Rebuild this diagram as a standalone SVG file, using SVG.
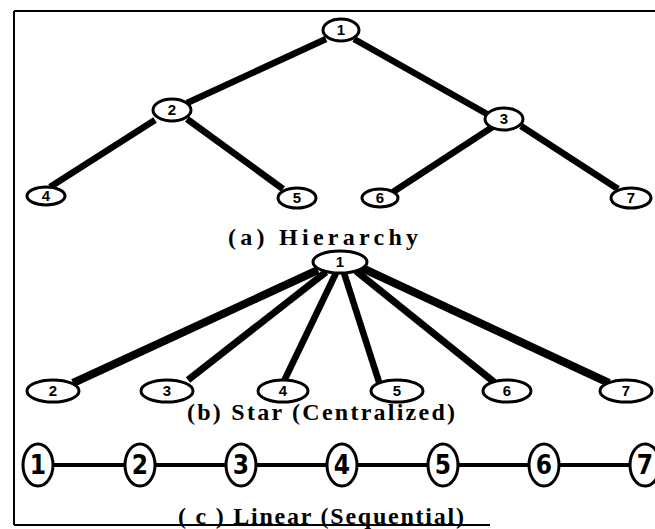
<svg xmlns="http://www.w3.org/2000/svg" width="655" height="529" viewBox="0 0 655 529">
<style>
.n{fill:#fff;stroke:#000;stroke-width:3}
.t{font-family:"Liberation Sans",Arial,sans-serif;font-weight:bold;font-size:15px;text-anchor:middle;fill:#000}
.tl{font-family:"Liberation Sans Narrow","DejaVu Sans Condensed","Liberation Sans",sans-serif;font-weight:bold;font-size:26px;text-anchor:middle;fill:#000}
.cap{font-family:"Liberation Serif","Times New Roman",serif;font-weight:bold;font-size:24px;fill:#000}
.e{stroke:#000;stroke-linecap:butt;fill:none}
</style>
<rect width="655" height="529" fill="#fff"/>
<g id="frame" fill="none" stroke="#000" stroke-width="2">
<path d="M14,11 H655 M14,11 V525 M14,525 H490"/>
</g>
<g id="connectors">
<g class="e" stroke-width="6.5">
<line x1="326" y1="39" x2="187" y2="103"/>
<line x1="354" y1="39" x2="487" y2="114"/>
<line x1="155" y1="120" x2="50" y2="187"/>
<line x1="187" y1="119" x2="283" y2="189"/>
<line x1="494" y1="126" x2="393" y2="192"/>
<line x1="521" y1="126" x2="618" y2="189"/>
</g>
<g class="e">
<line x1="318" y1="270" x2="73" y2="383" stroke-width="8"/>
<line x1="326" y1="272" x2="188" y2="380" stroke-width="7"/>
<line x1="336" y1="273" x2="284" y2="381" stroke-width="6.5"/>
<line x1="344" y1="273" x2="379" y2="382" stroke-width="6.5"/>
<line x1="356" y1="271" x2="494" y2="382" stroke-width="7"/>
<line x1="362" y1="268" x2="609" y2="383" stroke-width="8"/>
</g>
<g class="e" stroke-width="4">
<line x1="38" y1="465" x2="140" y2="465"/>
<line x1="140" y1="465" x2="241" y2="465"/>
<line x1="241" y1="465" x2="342" y2="465"/>
<line x1="342" y1="465" x2="443" y2="465"/>
<line x1="443" y1="465" x2="544" y2="465"/>
<line x1="544" y1="465" x2="645" y2="465"/>
</g>
</g>
<g id="h1"><ellipse class="n" cx="341" cy="30" rx="18" ry="11"/><text class="t" x="341" y="35">1</text></g>
<g id="h2"><ellipse class="n" cx="172" cy="110" rx="19" ry="11"/><text class="t" x="172" y="115">2</text></g>
<g id="h3"><ellipse class="n" cx="504" cy="119" rx="19" ry="11"/><text class="t" x="504" y="124">3</text></g>
<g id="h4"><ellipse class="n" cx="46" cy="196" rx="19" ry="9"/><text class="t" x="46" y="201">4</text></g>
<g id="h5"><ellipse class="n" cx="297" cy="198" rx="19" ry="10"/><text class="t" x="297" y="203">5</text></g>
<g id="h6"><ellipse class="n" cx="380" cy="198" rx="18" ry="9" stroke-width="5"/><text class="t" x="380" y="203">6</text></g>
<g id="h7"><ellipse class="n" cx="631" cy="198" rx="20" ry="10"/><text class="t" x="631" y="203">7</text></g>
<text id="capA" class="cap" x="228" y="245" textLength="190" lengthAdjust="spacing">(a)  Hierarchy</text>
<g id="s1"><ellipse class="n" cx="340" cy="262" rx="27" ry="11"/><text class="t" x="340" y="267">1</text></g>
<g id="s2"><ellipse class="n" cx="53" cy="391" rx="26" ry="11"/><text class="t" x="53" y="396">2</text></g>
<g id="s3"><ellipse class="n" cx="167" cy="391" rx="26" ry="11"/><text class="t" x="167" y="396">3</text></g>
<g id="s4"><ellipse class="n" cx="283" cy="391" rx="25" ry="11"/><text class="t" x="283" y="396">4</text></g>
<g id="s5"><ellipse class="n" cx="397" cy="391" rx="26" ry="11"/><text class="t" x="397" y="396">5</text></g>
<g id="s6"><ellipse class="n" cx="507" cy="391" rx="24" ry="11"/><text class="t" x="507" y="396">6</text></g>
<g id="s7"><ellipse class="n" cx="626" cy="391" rx="26" ry="11"/><text class="t" x="626" y="396">7</text></g>
<text id="capB" class="cap" x="187" y="420" textLength="268" lengthAdjust="spacing">(b) Star  (Centralized)</text>
<g id="l1"><ellipse class="n" cx="38" cy="465" rx="15" ry="21"/><text class="tl" x="38" y="474">1</text></g>
<g id="l2"><ellipse class="n" cx="140" cy="465" rx="15" ry="21"/><text class="tl" x="140" y="474">2</text></g>
<g id="l3"><ellipse class="n" cx="241" cy="465" rx="15" ry="21"/><text class="tl" x="241" y="474">3</text></g>
<g id="l4"><ellipse class="n" cx="342" cy="465" rx="15" ry="21"/><text class="tl" x="342" y="474">4</text></g>
<g id="l5"><ellipse class="n" cx="443" cy="465" rx="15" ry="21"/><text class="tl" x="443" y="474">5</text></g>
<g id="l6"><ellipse class="n" cx="544" cy="465" rx="15" ry="21"/><text class="tl" x="544" y="474">6</text></g>
<g id="l7"><ellipse class="n" cx="645" cy="465" rx="15" ry="21"/><text class="tl" x="645" y="474">7</text></g>
<text id="capC" class="cap" x="178" y="524" textLength="286" lengthAdjust="spacing">( c ) Linear (Sequential)</text>
</svg>
